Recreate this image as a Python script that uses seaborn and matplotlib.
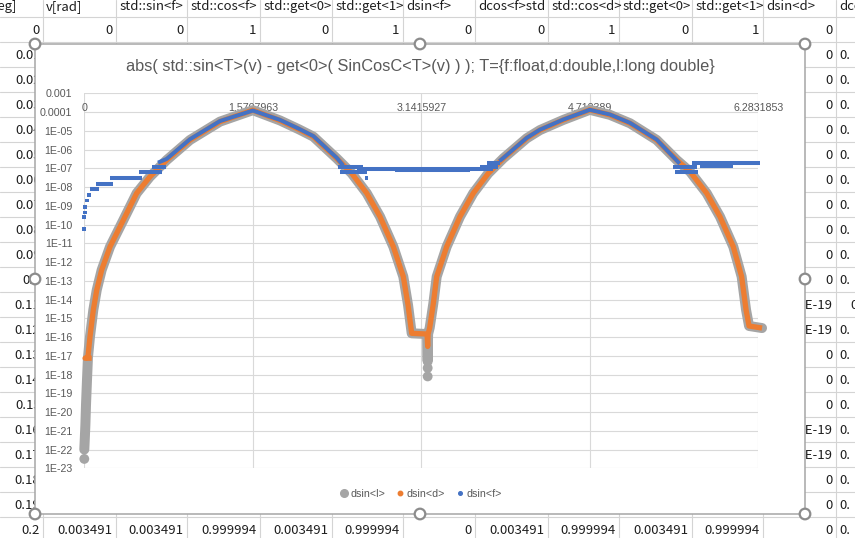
import numpy as np
import pandas as pd
import seaborn as sns
import matplotlib.pyplot as plt
from matplotlib.lines import Line2D
from matplotlib.patches import Rectangle, Circle
from matplotlib.ticker import NullLocator

# ---- values: x in rad, y given as log10(error) ----
# dsin<l> (long double)
l_x = [0.000, 0.004, 0.010, 0.016, 0.025, 0.034, 0.053, 0.084, 0.116, 0.162,
       0.240, 0.364, 0.488, 0.612, 0.768, 0.985, 1.265, 1.571, 1.825, 2.000, 2.135,
       2.353, 2.493, 2.633, 2.757, 2.881, 2.974, 3.018, 3.052, 3.195, 3.201,
       3.205, 3.220, 3.254, 3.285, 3.378, 3.502, 3.626, 3.766, 3.906, 4.124,
       4.248, 4.465, 4.712, 4.900, 5.088, 5.336, 5.523, 5.647, 5.802, 5.926, 6.050,
       6.128, 6.169, 6.197, 6.318]
l_logy = [-22.0, -21.5, -20.7, -19.6, -18.3, -17.1, -15.98, -14.56, -13.49, -12.42,
          -11.18, -9.76, -8.33, -7.45, -6.56, -5.49, -4.51, -3.90, -4.45, -4.92, -5.31,
          -6.47, -7.27, -8.33, -9.58, -11.18, -12.78, -14.29, -15.80, -15.84, -17.3,
          -15.84, -15.5, -14.2, -12.78, -11.18, -9.58, -8.33, -7.27, -6.47, -5.40,
          -4.96, -4.42, -3.88, -4.15, -4.60, -5.49, -6.56, -7.18, -8.33, -9.58, -11.18,
          -12.78, -14.55, -15.41, -15.52]
l_dot_x = [3.201, 3.201, 0.000]
l_dot_logy = [-17.65, -18.1, -22.5]

# dsin<d> (double)
d_x = [0.069, 0.007, 0.034, 0.053, 0.084, 0.116, 0.162, 0.240, 0.364, 0.488,
       0.612, 0.768, 0.985, 1.265, 1.571, 1.825, 2.000, 2.135, 2.353, 2.493, 2.633,
       2.757, 2.881, 2.974, 3.018, 3.052, 3.195, 3.201, 3.205, 3.220, 3.254,
       3.285, 3.378, 3.502, 3.626, 3.766, 3.906, 4.124, 4.248, 4.465, 4.712,
       4.900, 5.088, 5.336, 5.523, 5.647, 5.802, 5.926, 6.050, 6.128, 6.169, 6.197,
       6.318]
d_logy = [-17.13, -17.13, -17.05, -15.98, -14.56, -13.49, -12.42, -11.18, -9.76, -8.33,
          -7.45, -6.56, -5.49, -4.51, -3.90, -4.45, -4.92, -5.31, -6.47, -7.27, -8.33,
          -9.58, -11.18, -12.78, -14.29, -15.80, -15.84, -16.5, -15.84, -15.5, -14.2,
          -12.78, -11.18, -9.58, -8.33, -7.27, -6.47, -5.40, -4.96, -4.42, -3.88,
          -4.15, -4.60, -5.49, -6.56, -7.18, -8.33, -9.58, -11.18, -12.78, -14.55, -15.41,
          -15.52]
d_dot_x = [0.022, 0.007, 0.007, 0.000, 0.000, 3.201]
d_dot_logy = [-17.44, -17.72, -18.08, -18.34, -18.65, -16.78]

# dsin<f> (float): quantised pieces, one id per piece
f_seg = [0, 0, 1, 1, 2, 2, 3, 3, 4, 4,
         5, 5, 5, 5, 5, 5, 5, 5, 5, 5,
         6, 6, 7, 7, 8, 8, 9, 9, 10, 10, 11, 11,
         12, 12, 12, 12, 12, 12, 12, 12, 12, 12, 12,
         13, 13, 14, 14, 15, 15, 16, 16]
f_x = [0.053, 0.140, 0.109, 0.265, 0.240, 0.535, 0.513, 0.722, 0.628, 0.762,
       0.687, 0.768, 0.985, 1.265, 1.571, 1.825, 2.000, 2.135, 2.353, 2.414,
       2.365, 2.600, 2.380, 2.636, 2.539, 3.813, 2.900, 3.600, 3.689, 3.857, 3.751, 3.875,
       3.870, 3.906, 4.124, 4.248, 4.465, 4.712, 4.900, 5.088, 5.336, 5.500, 5.550,
       5.488, 5.712, 5.507, 5.720, 5.662, 6.300, 5.740, 6.047]
f_logy = [-8.12, -8.12, -7.85, -7.85, -7.53, -7.53, -7.21, -7.21, -6.95, -6.95,
          -6.70, -6.50, -5.45, -4.48, -3.92, -4.42, -4.89, -5.28, -6.44, -6.85,
          -6.95, -6.95, -7.21, -7.21, -7.05, -7.05, -7.10, -7.10, -6.95, -6.95, -6.72, -6.72,
          -6.62, -6.45, -5.38, -4.94, -4.40, -3.88, -4.13, -4.58, -5.47, -6.45, -6.75,
          -6.95, -6.95, -7.21, -7.21, -6.73, -6.73, -6.88, -6.88]
f_dot_x = [0.000, 0.000, 0.007, 0.009, 0.025, 0.044, 2.630]
f_dot_logy = [-10.25, -9.61, -9.35, -9.05, -8.71, -8.44, -7.53]

x_ticks = [0, np.pi / 2, np.pi, 3 * np.pi / 2, 2 * np.pi]
x_labels = ["0", "1.5707963", "3.1415927", "4.712389", "6.2831853"]
y_exps = list(range(-23, -2))
title = "abs( std::sin<T>(v) - get<0>( SinCosC<T>(v) ) ); T={f:float,d:double,l:long double}"
series_names = ["dsin<l>", "dsin<d>", "dsin<f>"]
series_colors = ["#a5a5a5", "#ed7d31", "#4472c4"]

# ---- spreadsheet behind the chart ----
col_edges = [-29, 43, 116, 187, 260, 332, 403, 475, 548, 619, 692, 763, 836, 908]
headers = ["v[deg]", "v[rad]", "std::sin<f>", "std::cos<f>", "std::get<0>", "std::get<1>",
           "dsin<f>", "dcos<f>std", "std::cos<d>", "std::get<0>", "std::get<1>",
           "dsin<d>", "dcos<d>"]
first_row = ["0", "0", "0", "1", "0", "1", "0", "0", "1", "0", "1", "0", ""]
last_row = ["0.2", "0.003491", "0.003491", "0.999994", "0.003491", "0.999994", "0",
            "0.003491", "0.999994", "0.003491", "0.999994", "0", ""]
deg_col = ["0.01", "0.02", "0.03", "0.04", "0.05", "0.06", "0.07", "0.08", "0.09", "0.1",
           "0.11", "0.12", "0.13", "0.14", "0.15", "0.16", "0.17", "0.18", "0.19"]
dsin_d_col = ["0", "0", "0", "0", "0", "0", "0", "0", "0", "0",
              "1.08E-19", "1.08E-19", "0", "0", "0", "1.08E-19", "1.08E-19", "0", "0"]

sns.set_theme(style="white")
plt.rcParams['font.family'] = ['Liberation Sans', 'DejaVu Sans']

fig = plt.figure(figsize=(8.55, 5.38), dpi=100)
bg = fig.add_axes([0, 0, 1, 1])
bg.set_xlim(0, 855)
bg.set_ylim(538, 0)
bg.axis('off')

cell_font = dict(family=['Noto Sans CJK JP', 'DejaVu Sans'], fontsize=9.5, color='#1e1e1e', va='baseline')
for xe in col_edges:
    bg.plot([xe, xe], [0, 538], color='#d4d4d4', lw=0.8)
for k in range(23):
    yy = 16.7 + 25 * k
    bg.plot([0, 855], [yy, yy], color='#d4d4d4', lw=0.8)

for i, h in enumerate(headers):
    x0, x1 = col_edges[i], col_edges[i + 1]
    t = bg.text(x0 + 3.2 if i > 0 else 17.5, 9.8, h, ha='left' if i > 0 else 'right', **cell_font)
    t.set_clip_path(Rectangle((x0 + 0.5, 0), x1 - x0 - 1, 16, transform=bg.transData))

for i in range(13):
    x1 = col_edges[i + 1]
    if first_row[i]:
        bg.text(x1 - 3.5, 34, first_row[i], ha='right', **cell_font)
    if last_row[i]:
        bg.text(x1 - 3.5, 534, last_row[i], ha='right', **cell_font)
bg.text(839, 534, "0.", ha='left', **cell_font)

for k in range(19):
    yb = 59 + 25 * k
    bg.text(col_edges[1] - 2.5, yb, deg_col[k], ha='right', **cell_font)
    bg.text(col_edges[12] - 3.5, yb, dsin_d_col[k], ha='right', **cell_font)
    if k == 10:
        bg.text(850, yb, "0", ha='left', **cell_font)
    else:
        bg.text(839, yb, "0.", ha='left', **cell_font)

# chart area with selection handles
bg.add_patch(Rectangle((35, 44), 770, 470, facecolor='white', edgecolor='#a6a6a6', lw=1.1, zorder=5))
for hx, hy in [(35, 44), (420, 44), (805, 44), (35, 279), (805, 279), (35, 514), (420, 514), (805, 514)]:
    bg.add_patch(Circle((hx, hy), 5.3, facecolor='white', edgecolor='#8c8c8c', lw=1.6, zorder=6))

bg.text(420, 66, title, ha='center', va='center', fontsize=11.8, color='#595959', zorder=7)

# ---- plot area ----
ax = fig.add_axes([84.3 / 855, 1 - 468.3 / 538, 674 / 855, 375 / 538])
ax.set_facecolor('none')

df_l = pd.DataFrame({'v': l_x, 'err': 10.0 ** np.array(l_logy)})
df_d = pd.DataFrame({'v': d_x, 'err': 10.0 ** np.array(d_logy)})
df_f = pd.DataFrame({'seg': f_seg, 'v': f_x, 'err': 10.0 ** np.array(f_logy)})

sns.lineplot(data=df_l, x='v', y='err', color=series_colors[0], lw=7.2, estimator=None,
             sort=False, solid_capstyle='round', solid_joinstyle='round', ax=ax, clip_on=False)
sns.scatterplot(x=l_dot_x, y=10.0 ** np.array(l_dot_logy), color=series_colors[0], s=50,
                edgecolor='none', ax=ax, legend=False, clip_on=False)
sns.lineplot(data=df_d, x='v', y='err', color=series_colors[1], lw=3.8, estimator=None,
             sort=False, solid_capstyle='butt', solid_joinstyle='round', ax=ax, clip_on=False)
sns.scatterplot(x=d_dot_x, y=10.0 ** np.array(d_dot_logy), color=series_colors[1], s=12,
                marker='s', edgecolor='none', ax=ax, legend=False, clip_on=False)
sns.lineplot(data=df_f, x='v', y='err', units='seg', color=series_colors[2], lw=2.9,
             estimator=None, sort=False, solid_capstyle='butt', ax=ax, clip_on=False)
sns.scatterplot(x=f_dot_x, y=10.0 ** np.array(f_dot_logy), color=series_colors[2], s=7,
                marker='s', edgecolor='none', ax=ax, legend=False, clip_on=False)

ax.set_yscale('log')
ax.set_xlim(0, 2 * np.pi)
ax.set_ylim(1e-23, 1e-3)
ax.set_yticks([10.0 ** e for e in y_exps])
ax.set_yticklabels(["0.001" if e == -3 else "0.0001" if e == -4 else "1E-%02d" % -e for e in y_exps])
ax.yaxis.set_minor_locator(NullLocator())
ax.set_xticks(x_ticks)
ax.set_xticklabels(x_labels)
ax.xaxis.set_ticks_position('top')
ax.tick_params(axis='x', length=0, pad=-14.5, labelsize=7.7, labelcolor='#595959')
ax.tick_params(axis='y', length=0, pad=8.5, labelsize=7.7, labelcolor='#595959')
ax.grid(True, color='#d9d9d9', lw=0.8)
ax.set_axisbelow(True)
ax.set_xlabel('')
ax.set_ylabel('')
for s in ax.spines.values():
    s.set_visible(False)

handles = [Line2D([], [], ls='', marker='o', color=series_colors[0], markersize=5.5),
           Line2D([], [], ls='', marker='o', color=series_colors[1], markersize=3.2),
           Line2D([], [], ls='', marker='o', color=series_colors[2], markersize=2.6)]
fig.legend(handles, series_names, loc='center', bbox_to_anchor=(421 / 855, 1 - 494 / 538),
           ncol=3, frameon=False, fontsize=7.7, labelcolor='#595959', handlelength=0.7,
           handletextpad=0.3, columnspacing=1.0)

fig.savefig('out.png', dpi=100)
